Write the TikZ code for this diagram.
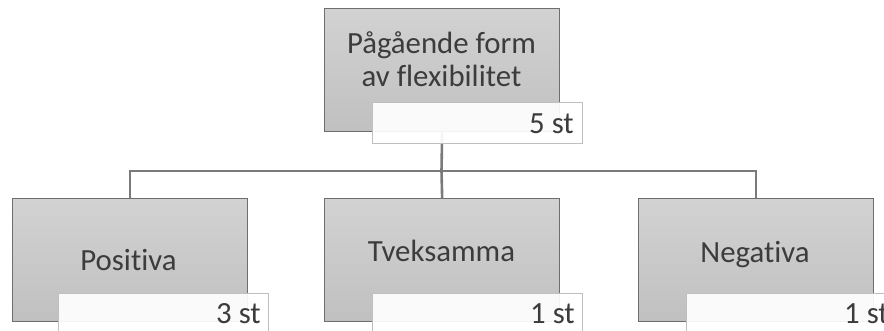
\documentclass[tikz,border=0pt]{standalone}
\usepackage{fontspec}
\setmainfont[Ligatures={NoCommon}]{Carlito}
\definecolor{txt}{HTML}{3C3C3C}
\definecolor{boxline}{HTML}{6E6E6E}
\definecolor{conn}{HTML}{7A7A7A}
\definecolor{lblline}{HTML}{BFBFBF}
\definecolor{boxtop}{HTML}{D2D2D2}
\definecolor{boxbot}{HTML}{C0C0C0}
\begin{document}
\begin{tikzpicture}[x=1pt,y=-1pt,
  mainbox/.style={draw=boxline,line width=1.3pt,top color=boxtop,bottom color=boxbot,
    minimum width=235pt,minimum height=123pt,inner sep=0pt,anchor=north west},
  lblbox/.style={draw=lblline,line width=1pt,fill=white,fill opacity=0.92,
    minimum width=210pt,minimum height=41pt,inner sep=0pt,anchor=north west},
  conline/.style={draw=conn,line width=2.6pt},
  maintext/.style={text=txt,font=\fontsize{30.8}{33}\selectfont,inner sep=0pt},
  cnt/.style={text=txt,font=\fontsize{30.8}{33}\selectfont,inner sep=0pt,anchor=base east}]
\useasboundingbox (0,0) rectangle (884,330);
\clip (0,0) rectangle (884,330);
% main boxes
\node[mainbox] (top) at (324,8) {};
\node[mainbox] (pos) at (12,198) {};
\node[mainbox] (tve) at (324,198) {};
\node[mainbox] (neg) at (638,198) {};
% connectors
\coordinate (bus) at (441.5,171);
\draw[conline] (top.south) -- (bus);
\draw[conline] (pos.north) |- (bus) -| (neg.north);
\draw[conline] (tve.north) -- (bus);
% texts
\node[maintext,anchor=base] (toptxt1) at (441.5,53) {Pågående form};
\node[maintext,anchor=base] (toptxt2) at (441.5,86) {av flexibilitet};
\node[maintext,anchor=base] (postxt) at (128.5,270) {Positiva};
\node[maintext,anchor=base] (tvetxt) at (441.5,261) {Tveksamma};
\node[maintext,anchor=base] (negtxt) at (755,262) {Negativa};
% label boxes
\node[lblbox] (toplbl) at (372,102) {};
\node[lblbox] (poslbl) at (58,293) {};
\node[lblbox] (tvelbl) at (372,293) {};
\node[lblbox] (neglbl) at (686,293) {};
\node[cnt] (topn) at (574,133) {5 st};
\node[cnt] (posn) at (261,323) {3 st};
\node[cnt] (tven) at (575,323) {1 st};
\node[cnt] (negn) at (889,323) {1 st};
\end{tikzpicture}
\end{document}
